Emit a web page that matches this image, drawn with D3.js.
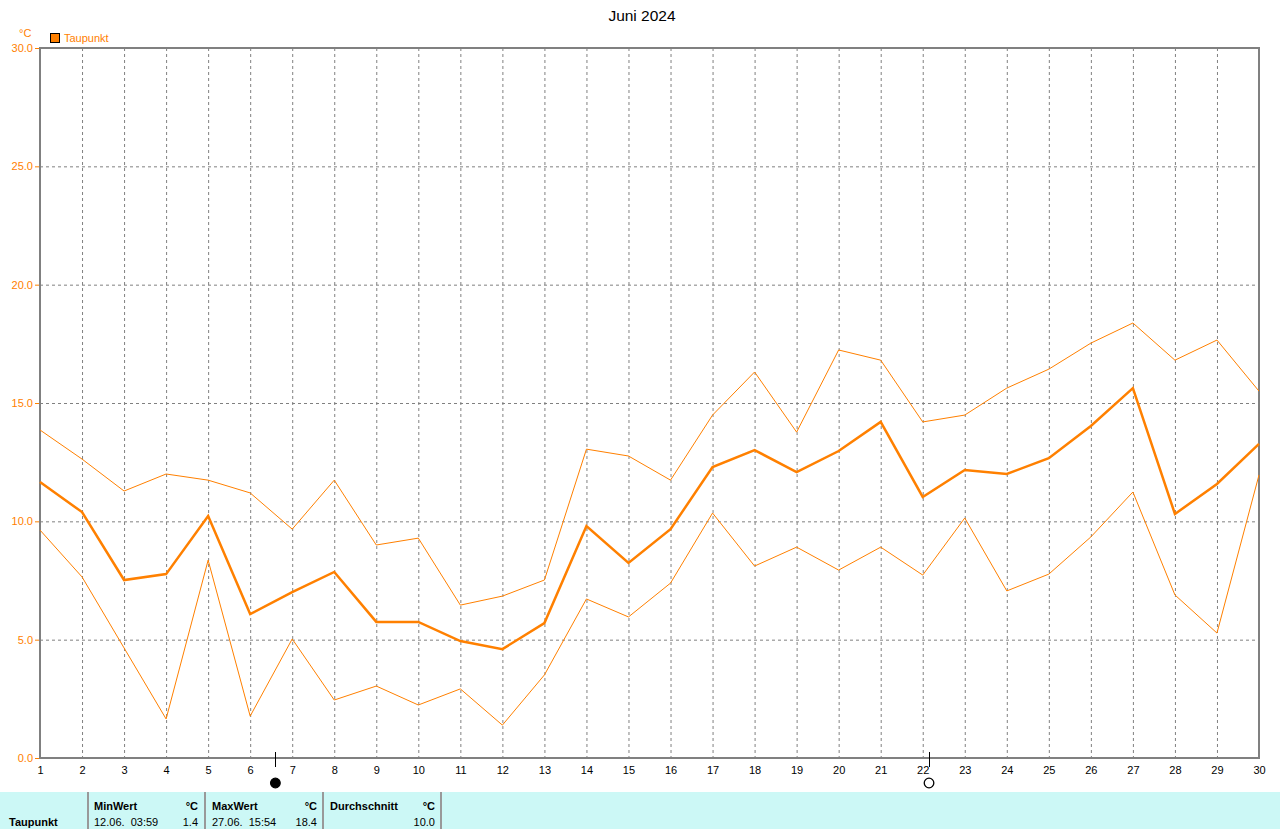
<!DOCTYPE html>
<html><head><meta charset="utf-8">
<script src="https://cdn.jsdelivr.net/npm/d3@7"></script>
<style>body{margin:0;background:#fff;}svg{display:block;font-family:"Liberation Sans",Arial,sans-serif;}text{white-space:pre;}</style>
</head><body>
<script>
const days = d3.range(1, 31);
const avgValues = [11.66,10.39,7.52,7.77,10.22,6.08,7.01,7.86,5.75,5.75,4.94,4.60,5.70,9.80,8.24,9.67,12.29,13.01,12.08,12.97,14.20,11.03,12.17,12.00,12.67,14.03,15.63,10.31,11.58,13.27];
const maxValues = [13.86,12.63,11.28,12.00,11.74,11.20,9.67,11.74,9.00,9.29,6.46,6.84,7.52,13.05,12.76,11.74,14.49,16.31,13.77,17.24,16.81,14.20,14.49,15.63,16.43,17.53,18.38,16.81,17.66,15.50];
const minValues = [9.63,7.65,4.65,1.65,8.36,1.77,5.03,2.45,3.04,2.24,2.92,1.39,3.51,6.72,5.96,7.39,10.35,8.11,8.91,7.94,8.91,7.73,10.14,7.06,7.77,9.34,11.24,6.89,5.28,11.96];
const yTicks = [0,5,10,15,20,25,30];
const moonPhases = [{day:6.6, type:"new"},{day:22.15, type:"full"}];
const title = "Juni 2024";
const seriesName = "Taupunkt";
const unit = "°C";
const stats = {min:{date:"12.06.  03:59", val:"1.4"}, max:{date:"27.06.  15:54", val:"18.4"}, avg:"10.0"};

const W=1280,H=829;
const orange="#ff8000", gray="#808080";
const svg=d3.select("body").append("svg").attr("width",W).attr("height",H);
const x=d3.scaleLinear().domain([1,30]).range([40,1259]);
const y=d3.scaleLinear().domain([0,30]).range([758,48]);

svg.append("text").attr("x",642).attr("y",21).attr("text-anchor","middle").attr("font-size",15.5).attr("fill","#000").text(title);

// grid
svg.append("g").selectAll("line").data(days.slice(1,29)).join("line")
  .attr("x1",d=>x(d)+0.5).attr("x2",d=>x(d)+0.5).attr("y1",y(30)).attr("y2",y(0))
  .attr("stroke",gray).attr("stroke-dasharray","3,3");
svg.append("g").selectAll("line").data(yTicks.slice(1,6)).join("line")
  .attr("x1",x(1)).attr("x2",x(30)).attr("y1",d=>y(d)+0.5).attr("y2",d=>y(d)+0.5)
  .attr("stroke",gray).attr("stroke-dasharray","3,3");

// axes via d3
const yAxis=d3.axisLeft(y).tickValues(yTicks).tickFormat(d3.format(".1f")).tickSize(4).tickPadding(2);
const gy=svg.append("g").attr("transform","translate(39,0)").call(yAxis);
gy.select(".domain").remove();
gy.selectAll("line").attr("stroke",orange);
gy.selectAll("text").attr("fill",orange).attr("font-size",11).attr("font-family","Liberation Sans,Arial,sans-serif");

const xAxis=d3.axisBottom(x).tickValues(days).tickFormat(d3.format("d")).tickSize(0).tickPadding(8);
const gx=svg.append("g").attr("transform","translate(0,758)").call(xAxis);
gx.select(".domain").remove();
gx.selectAll("text").attr("fill","#000").attr("font-size",11).attr("font-family","Liberation Sans,Arial,sans-serif");

// frame
svg.append("rect").attr("x",40).attr("y",48).attr("width",1219).attr("height",710)
  .attr("fill","none").attr("stroke",gray).attr("stroke-width",2);

// lines
const line=d3.line().x((d,i)=>x(days[i])).y(d=>y(d));
svg.append("path").datum(maxValues).attr("d",line).attr("fill","none").attr("stroke",orange).attr("stroke-width",1);
svg.append("path").datum(minValues).attr("d",line).attr("fill","none").attr("stroke",orange).attr("stroke-width",1);
svg.append("path").datum(avgValues).attr("d",line).attr("fill","none").attr("stroke",orange).attr("stroke-width",2.5);

// legend
svg.append("text").attr("x",19).attr("y",37).attr("font-size",11).attr("fill",orange).text(unit);
svg.append("rect").attr("x",50.5).attr("y",33.5).attr("width",9).attr("height",9).attr("fill",orange).attr("stroke","#000");
svg.append("text").attr("x",64).attr("y",42).attr("font-size",11).attr("fill",orange).text(seriesName);

// moon phases
const mg=svg.append("g").selectAll("g").data(moonPhases).join("g");
mg.append("line").attr("x1",d=>Math.round(x(d.day))+0.5).attr("x2",d=>Math.round(x(d.day))+0.5).attr("y1",752).attr("y2",767).attr("stroke","#000");
mg.append("circle").attr("cx",d=>x(d.day)).attr("cy",783).attr("r",4.8)
  .attr("fill",d=>d.type==="new"?"#000":"#fff").attr("stroke","#000").attr("stroke-width",1.3);

// stats table
svg.append("rect").attr("x",0).attr("y",792).attr("width",W).attr("height",H-792).attr("fill","#ccf8f6");
[88,205,323,441].forEach(xx=>svg.append("line").attr("x1",xx).attr("x2",xx).attr("y1",792).attr("y2",H).attr("stroke","#999").attr("stroke-width",2));
const t=(xx,yy,s,bold,anchor)=>svg.append("text").attr("x",xx).attr("y",yy).attr("font-size",11)
  .attr("font-weight",bold?"bold":"normal").attr("text-anchor",anchor||"start").attr("fill","#000").text(s);
t(9,826,seriesName,true);
t(94,810,"MinWert",true); t(198,810,unit,true,"end");
t(94,826,stats.min.date,false); t(198,826,stats.min.val,false,"end");
t(212,810,"MaxWert",true); t(317,810,unit,true,"end");
t(212,826,stats.max.date,false); t(317,826,stats.max.val,false,"end");
t(330,810,"Durchschnitt",true); t(435,810,unit,true,"end");
t(435,826,stats.avg,false,"end");
</script>
</body></html>
